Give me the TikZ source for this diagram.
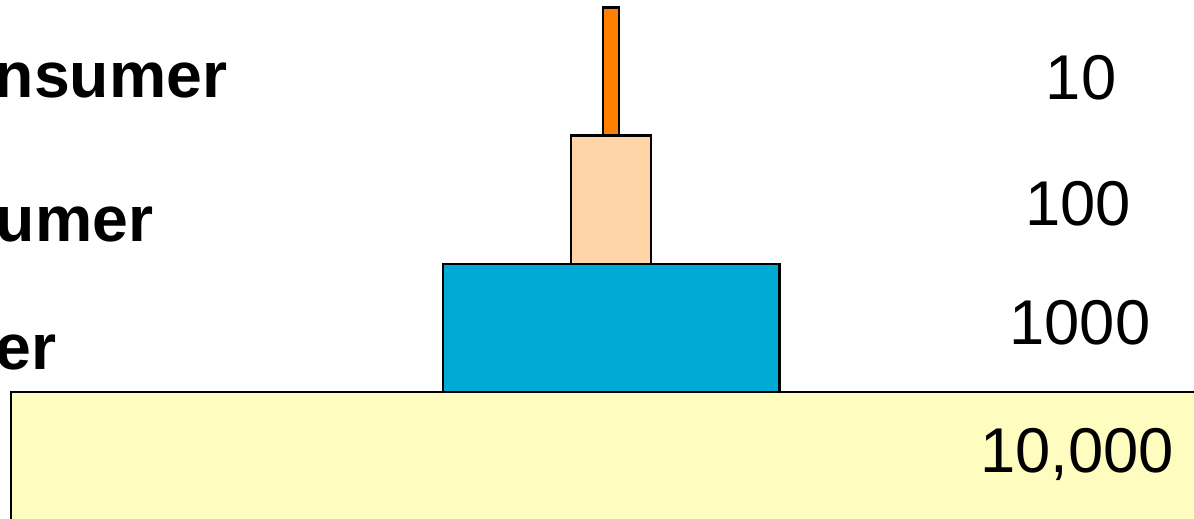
\documentclass[tikz,border=0pt]{standalone}
\usepackage{fontspec}
\setmainfont{Liberation Sans}
\usepackage{tikz}
\usetikzlibrary{positioning}
\definecolor{topcol}{RGB}{255,128,0}
\definecolor{seccol}{RGB}{255,213,168}
\definecolor{primcol}{RGB}{0,170,213}
\definecolor{basecol}{RGB}{255,252,192}

\begin{document}
\begin{tikzpicture}[x=0.01cm,y=-0.01cm,
  level/.style={draw=black, line width=0.8pt, inner sep=0pt, outer sep=0pt, minimum height=1.28cm},
  lbl/.style={font=\fontsize{18.3}{22}\selectfont\bfseries, anchor=base east, inner sep=0pt},
  num/.style={font=\fontsize{18}{22}\selectfont, anchor=base, inner sep=0pt}]
\clip (0,0) rectangle (1194,519);

\node[level, fill=basecol, anchor=north west, minimum width=12cm, minimum height=1.6cm] (base) at (11,392) {};
\node[level, fill=primcol, anchor=south, minimum width=3.36cm] (prim) at (611,392) {};
\node[level, fill=seccol, minimum width=0.8cm, above=0pt of prim] (sec) {};
\node[level, fill=topcol, minimum width=0.16cm, above=0pt of sec] (top) {};

\node[lbl] (toplbl) at (228,98) {nsumer};
\node[lbl] (seclbl) at (154,242) {umer};
\node[lbl] (primlbl) at (57,370) {er};

\node[num] (topnum) at (1081,100) {10};
\node[num] (secnum) at (1078,226) {100};
\node[num] (primnum) at (1080,345) {1000};
\node[num] (basenum) at (1077,473) {10,000};

\end{tikzpicture}
\end{document}
